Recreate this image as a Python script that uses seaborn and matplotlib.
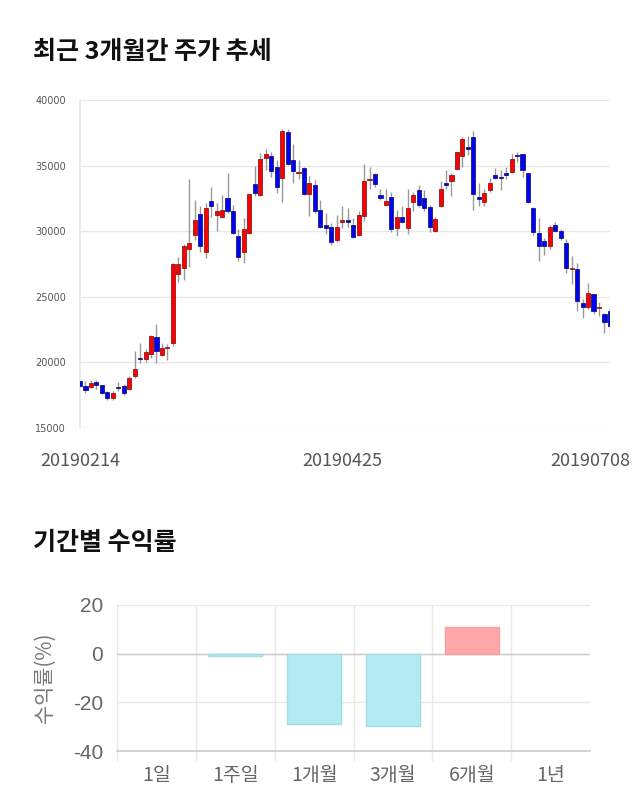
import matplotlib
matplotlib.use("Agg")
import matplotlib.pyplot as plt
import seaborn as sns
import numpy as np
import pandas as pd

# daily candles, 20190214 .. 20190708
opens = [18600, 18200, 18100, 18500, 18250, 17750, 17250, 18100, 18200, 17950,
         18950, 20300, 20250, 20650, 21950, 20550, 21100, 21450, 26700, 27200,
         28650, 29700, 31300, 28400, 32300, 31200, 31100, 32500, 31550, 29650,
         28400, 29850, 33600, 32750, 35600, 35750, 34900, 34050, 37550, 35400,
         34400, 34850, 32850, 33550, 31650, 30450, 30300, 29300, 30700, 30850,
         30450, 29700, 31150, 33900, 34350, 32750, 32000, 32600, 30250, 31050,
         30250, 32200, 33150, 32500, 31850, 30050, 31900, 33650, 33800, 34750,
         35750, 36400, 37200, 32600, 32200, 33150, 34300, 34100, 34450, 34500,
         35800, 35900, 34400, 31750, 29850, 29250, 28850, 30450, 30050, 29100,
         27150, 27100, 24500, 24250, 25200, 24150, 23700, 23900]
highs = [18750, 18550, 18650, 18650, 18300, 17850, 17850, 18500, 18350, 19000,
         20850, 21500, 21050, 22050, 22900, 21450, 21400, 27550, 28050, 29000,
         33950, 32400, 31900, 32150, 33400, 32150, 32750, 34400, 32000, 30150,
         31000, 32850, 35000, 35950, 36300, 36050, 35450, 37750, 37750, 36650,
         35400, 34900, 34200, 33900, 32400, 31350, 30600, 31250, 31900, 31750,
         31000, 31500, 35150, 34900, 34450, 33250, 33200, 32950, 31650, 31900,
         33250, 33000, 33550, 33150, 32000, 31100, 33800, 34700, 34400, 36050,
         37200, 37250, 37650, 33700, 33250, 34050, 34850, 34700, 34900, 35850,
         36050, 35900, 34450, 31850, 31000, 29450, 30500, 30700, 30150, 29400,
         28100, 27550, 24800, 26050, 25250, 24600, 23800, 24250]
lows = [18150, 17700, 18050, 17950, 17600, 17100, 17100, 17800, 17550, 17900,
        18800, 19950, 20000, 20350, 19950, 20450, 20200, 21250, 26100, 26300,
        27250, 29350, 28450, 27950, 31100, 30000, 31000, 31350, 29800, 27700,
        27550, 29800, 32650, 32650, 34650, 34150, 32900, 32250, 35050, 33650,
        33950, 32750, 31150, 31400, 30250, 29800, 28950, 29200, 30250, 30350,
        29500, 29600, 30750, 33200, 33400, 32350, 31950, 29900, 29650, 30600,
        29750, 31500, 31850, 31500, 29950, 29950, 31850, 33200, 32650, 34650,
        34900, 35800, 31650, 31950, 31900, 33000, 33950, 33100, 33950, 34450,
        35300, 34100, 32150, 29700, 27700, 28200, 28650, 29900, 29350, 26800,
        25950, 23950, 23400, 24100, 23700, 23500, 22250, 22250]
closes = [18200, 17900, 18450, 18250, 17700, 17250, 17650, 18080, 17650, 18800,
          19500, 20250, 20800, 22000, 20900, 21100, 21150, 27500, 27500, 28850,
          29100, 30850, 28900, 31750, 31950, 31550, 31600, 31500, 29850, 28000,
          30150, 32800, 32900, 35500, 35850, 34600, 33350, 37650, 35150, 34600,
          34500, 32800, 33700, 31550, 30300, 30250, 29150, 30350, 30850, 30700,
          29550, 31250, 33850, 33950, 33600, 32550, 32300, 30150, 31050, 30700,
          31750, 32750, 32000, 31750, 30350, 30900, 33250, 33550, 34300, 36000,
          37000, 36300, 32800, 32450, 32900, 33700, 34050, 34050, 34250, 35500,
          35700, 34650, 32200, 29900, 28850, 28850, 30300, 30050, 29500, 27200,
          27200, 24650, 24200, 25300, 23950, 24150, 23100, 22750]
date_labels = ["20190214", "20190425", "20190708"]
date_label_idx = [0, 48, 93.5]

# period returns (%)
periods = ["1일", "1주일", "1개월", "3개월", "6개월", "1년"]
returns = [0, -0.8, -28.8, -29.8, 11.0, 0]

sns.set_theme(style="white")
plt.rcParams["font.family"] = ["Noto Sans CJK KR", "DejaVu Sans"]

fig = plt.figure(figsize=(6.4, 8.1), dpi=100)

# ---- candlestick chart ----
ax1 = fig.add_axes([0.125, 0.4716, 0.828, 0.405])
df = pd.DataFrame({"o": opens, "h": highs, "l": lows, "c": closes})
df["i"] = np.arange(len(df))
df["up"] = df["c"] >= df["o"]
df["bottom"] = df[["o", "c"]].min(axis=1)
df["height"] = (df["c"] - df["o"]).abs().clip(lower=60)

ax1.vlines(df["i"], df["l"], df["h"], color="#999999", linewidth=1, zorder=2)
for up, col, edge in [(True, "#FF0000", "#8B1A1A"), (False, "#0000FF", "#1A1A6B")]:
    d = df[df["up"] == up]
    ax1.bar(d["i"], d["height"], bottom=d["bottom"], width=0.75,
            color=col, edgecolor=edge, linewidth=0.6, zorder=3)

ax1.set_xlim(0, len(df) - 1)
ax1.set_ylim(15000, 40000)
ax1.set_yticks([15000, 20000, 25000, 30000, 35000, 40000])
ax1.set_yticklabels(["15000", "20000", "25000", "30000", "35000", "40000"],
                    fontsize=7, color="#555555", family="DejaVu Sans")
ax1.grid(axis="y", color="#e8e8e8", linewidth=1)
ax1.set_xticks(date_label_idx)
ax1.set_xticklabels(date_labels, fontsize=13, color="#555555")
ax1.tick_params(axis="x", length=0, pad=17)
ax1.tick_params(axis="y", length=0, pad=10)
for s in ["top", "right", "bottom"]:
    ax1.spines[s].set_visible(False)
ax1.spines["left"].set_color("#e8e8e8")
ax1.set_axisbelow(True)

fig.text(0.052, 0.936, "최근 3개월간 주가 추세", fontsize=18, fontweight="bold",
         color="#111111", va="center")

# ---- returns bar chart ----
ax2 = fig.add_axes([0.1828, 0.0728, 0.7392, 0.1803])
rdf = pd.DataFrame({"period": periods, "ret": returns})
rdf["sign"] = np.where(rdf["ret"] >= 0, "pos", "neg")
sns.barplot(data=rdf, x="period", y="ret", hue="sign", order=periods,
            palette={"pos": "#FFA8A8", "neg": "#B2EBF2"}, saturation=1,
            dodge=False, width=0.68, legend=False, ax=ax2, zorder=3)
for p in ax2.patches:
    h = p.get_height()
    if h == 0:
        p.set_visible(False)
    p.set_edgecolor("#F2A0A0" if h > 0 else "#A4DCE4")
    p.set_linewidth(1)

ax2.set_xlim(-0.5, len(periods) - 0.5)
ax2.set_ylim(-40, 20)
ax2.set_yticks([-40, -20, 0, 20])
ax2.set_yticklabels(["-40", "-20", "0", "20"], fontsize=15, color="#666666",
                    family="Liberation Sans")
ax2.set_xlabel("")
ax2.set_ylabel("수익률(%)", fontsize=15, color="#777777", labelpad=12)
ax2.tick_params(axis="x", labelsize=14, colors="#666666", length=0, pad=10)
ax2.tick_params(axis="y", length=0, pad=10)
ax2.grid(axis="y", color="#e8e8e8", linewidth=1, zorder=0)
ax2.axhline(0, color="#cccccc", linewidth=1, zorder=2)
ax2.vlines(np.arange(-0.5, len(periods) - 1), -0.07, 1,
           transform=ax2.get_xaxis_transform(), color="#e8e8e8",
           linewidth=1, clip_on=False, zorder=1)
for s in ["top", "right", "left"]:
    ax2.spines[s].set_visible(False)
ax2.spines["bottom"].set_color("#cccccc")

fig.text(0.052, 0.330, "기간별 수익률", fontsize=18, fontweight="bold",
         color="#111111", va="center")

fig.savefig("out.png", dpi=100)
